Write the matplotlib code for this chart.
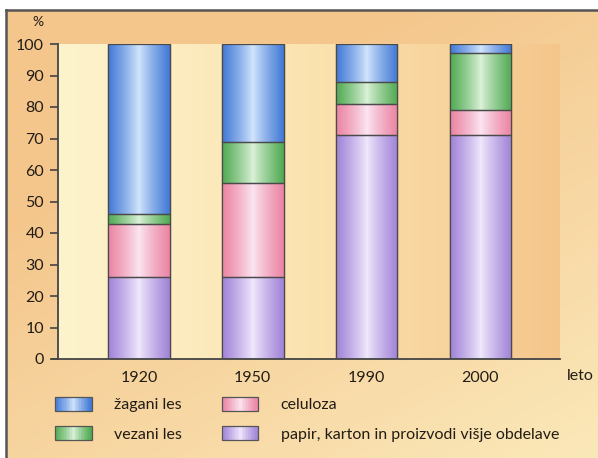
import numpy as np
import matplotlib
matplotlib.use("Agg")
import matplotlib.pyplot as plt
from matplotlib.colors import LinearSegmentedColormap
from matplotlib.legend_handler import HandlerBase
from matplotlib.patches import Rectangle

plt.rcParams['font.family'] = ['Lato', 'DejaVu Sans']

years = ['1920', '1950', '1990', '2000']
papir = [26, 26, 71, 71]
celuloza = [17, 30, 10, 8]
vezani = [3, 13, 7, 18]
zagani = [54, 31, 12, 3]
series_labels = ['papir, karton in proizvodi višje obdelave', 'celuloza', 'vezani les', 'žagani les']
yticks = [0, 10, 20, 30, 40, 50, 60, 70, 80, 90, 100]

# (edge colour, centre colour) for cylinder-like shading
shades = {
    'papir': ('#a184d8', '#f1e9fc'),
    'celuloza': ('#ec84a3', '#fbe6f1'),
    'vezani': ('#52ab54', '#dcf2d9'),
    'zagani': ('#437ad6', '#d3e6fc'),
}
EXP = 0.85
cyl = np.abs(np.linspace(-1, 1, 64)) ** EXP


class GradientHandler(HandlerBase):
    def __init__(self, cmap, **kw):
        super().__init__(**kw)
        self.cmap = cmap

    def create_artists(self, legend, orig_handle, xdescent, ydescent, width, height, fontsize, trans):
        arts = []
        n = 24
        xs = np.linspace(-1, 1, n)
        w = width / n
        for i, v in enumerate(xs):
            r = Rectangle((-xdescent + i * w, -ydescent), w * 1.05, height,
                          facecolor=self.cmap(abs(v) ** EXP), edgecolor='none', transform=trans)
            arts.append(r)
        arts.append(Rectangle((-xdescent, -ydescent), width, height, fill=False,
                              edgecolor='#555555', linewidth=0.9, transform=trans))
        return arts


W, H = 598, 458
fig = plt.figure(figsize=(W / 100, H / 100), dpi=100)
fig.patch.set_facecolor('white')

# frame background (diagonal gradient orange -> pale yellow)
bg = fig.add_axes([6 / W, 0, 1 - 6 / W, 1 - 10 / H], zorder=0)
gx, gy = np.meshgrid(np.linspace(0, 1, 200), np.linspace(0, 1, 200))
g = np.clip(0.55 * gx + 0.75 * gy - 0.35, 0, 1)
cm_bg = LinearSegmentedColormap.from_list('bg', ['#f4c68c', '#fbe8b9'])
bg.imshow(g, cmap=cm_bg, aspect='auto', extent=(0, 1, 0, 1), origin='upper')
bg.set_xlim(0, 1); bg.set_ylim(0, 1)
bg.set_xticks([]); bg.set_yticks([])
for s in ['right', 'bottom']:
    bg.spines[s].set_visible(False)
for s in ['top', 'left']:
    bg.spines[s].set_color('#555555')
    bg.spines[s].set_linewidth(1.8)

ax = fig.add_axes([58 / W, 1 - 359 / H, (560 - 58) / W, (359 - 44) / H], zorder=1)
ax.set_facecolor('none')
# plot area gradient: pale yellow -> orange
cm_pa = LinearSegmentedColormap.from_list('pa', ['#fdf4cd', '#fbe3b0', '#f5c68c'])
ax.imshow(np.linspace(0, 1, 256)[None, :], cmap=cm_pa, aspect='auto',
          extent=(0, 1, 0, 1), transform=ax.transAxes, zorder=0)

x = np.arange(len(years))
width = 0.54
bottom = np.zeros(len(years))
handles = {}
cmaps = {}
for key, vals in [('papir', papir), ('celuloza', celuloza), ('vezani', vezani), ('zagani', zagani)]:
    edge_c, mid_c = shades[key]
    bars = ax.bar(x, vals, width, bottom=bottom, color=edge_c, edgecolor='#4a4a4a',
                  linewidth=0.9, zorder=2)
    cm_bar = LinearSegmentedColormap.from_list(key, [mid_c, edge_c])
    cmaps[key] = cm_bar
    for b in bars:
        im = ax.imshow(cyl[None, :], cmap=cm_bar, aspect='auto', vmin=0, vmax=1,
                       extent=(b.get_x(), b.get_x() + b.get_width(), b.get_y(), b.get_y() + b.get_height()),
                       zorder=2.5)
        im.set_clip_path(b)
        ax.add_patch(Rectangle((b.get_x(), b.get_y()), b.get_width(), b.get_height(),
                               fill=False, edgecolor='#4a4a4a', linewidth=0.9, zorder=3))
    handles[key] = bars
    bottom += np.array(vals)

ax.set_xlim(-0.712, 3.70)
ax.set_ylim(0, 100)
ax.set_xticks(x)
ax.set_xticklabels(years)
ax.set_yticks(yticks)
ax.tick_params(axis='x', length=0, pad=9, labelsize=11.5, labelcolor='#221c14')
ax.tick_params(axis='y', length=6, width=1.2, pad=4, labelsize=11.5, colors='#444444',
               labelcolor='#221c14', direction='out')
for s in ['top', 'right']:
    ax.spines[s].set_visible(False)
for s in ['left', 'bottom']:
    ax.spines[s].set_color('#444444')
    ax.spines[s].set_linewidth(1.3)
ax.spines['bottom'].set_bounds(-0.712 - 6 / 113.8, 3.70)
ax.spines['bottom'].set_clip_on(False)

fig.text(38 / W, 1 - 22 / H, '%', ha='center', va='center', fontsize=10, color='#221c14')
fig.text(580 / W, 1 - 376 / H, 'leto', ha='center', va='center', fontsize=11.5, color='#221c14')

order = ['zagani', 'vezani', 'celuloza', 'papir']
leg_handles = [handles[k] for k in order]
leg_labels = [series_labels[3], series_labels[2], series_labels[1], series_labels[0]]
leg = fig.legend(leg_handles, leg_labels, ncol=2, loc='upper left',
                 bbox_to_anchor=(50 / W, 1 - 392 / H), frameon=False, fontsize=11.5,
                 handlelength=2.3, handleheight=1.0, handletextpad=1.4,
                 columnspacing=2.5, labelspacing=0.85, borderaxespad=0, borderpad=0.3,
                 handler_map={handles[k]: GradientHandler(cmaps[k]) for k in order})
for t in leg.get_texts():
    t.set_color('#221c14')

fig.savefig('out.png', dpi=100, facecolor=fig.get_facecolor())
